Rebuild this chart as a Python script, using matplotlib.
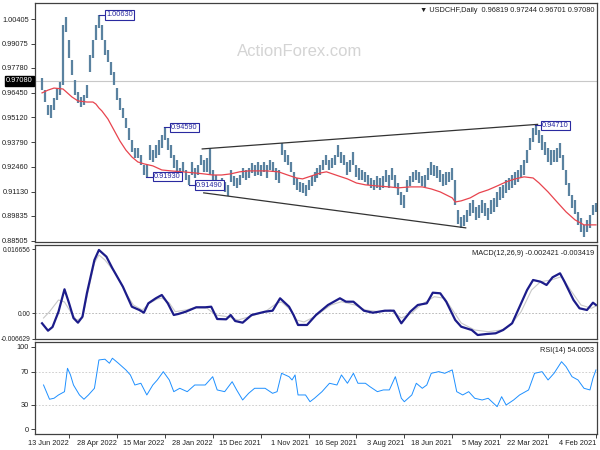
import numpy as np
import matplotlib
matplotlib.use("Agg")
import matplotlib.pyplot as plt

plt.rcParams['font.family'] = ['Liberation Sans', 'DejaVu Sans']

# price bars: day index 0 = 4 Feb 2021, one bar per two trading days
bar_days = np.arange(0, 371, 2)
highs = [0.9053, 0.9042, 0.8988, 0.8962, 0.8935, 0.8972, 0.9005, 0.9069, 0.9096, 0.9160,
         0.9230, 0.9311, 0.9375, 0.9348, 0.9337, 0.9337, 0.9348, 0.9380, 0.9418, 0.9445,
         0.9477, 0.9455, 0.9402, 0.9337, 0.9284, 0.9257, 0.9230, 0.9220, 0.9203, 0.9187,
         0.9176, 0.9150, 0.9139, 0.9112, 0.9080, 0.9069, 0.9026, 0.9053, 0.9069, 0.9042,
         0.9032, 0.9069, 0.9053, 0.9015, 0.8988, 0.8978, 0.9015, 0.9176, 0.9241, 0.9220,
         0.9220, 0.9209, 0.9230, 0.9252, 0.9257, 0.9273, 0.9241, 0.9203, 0.9198, 0.9220,
         0.9230, 0.9220, 0.9198, 0.9176, 0.9096, 0.9112, 0.9160, 0.9203, 0.9241, 0.9203,
         0.9230, 0.9198, 0.9187, 0.9198, 0.9176, 0.9187, 0.9203, 0.9220, 0.9230, 0.9241,
         0.9257, 0.9327, 0.9284, 0.9273, 0.9311, 0.9327, 0.9364, 0.9311, 0.9295, 0.9284,
         0.9311, 0.9284, 0.9257, 0.9241, 0.9220, 0.9198, 0.9176, 0.9150, 0.9160, 0.9166,
         0.9187, 0.9220, 0.9273, 0.9311, 0.9337, 0.9375, 0.9230, 0.9241, 0.9273, 0.9284,
         0.9257, 0.9273, 0.9257, 0.9273, 0.9257, 0.9268, 0.9241, 0.9230, 0.9241, 0.9203,
         0.9187, 0.9198, 0.9230, 0.9150, 0.9166, 0.9187, 0.9176, 0.9203, 0.9230, 0.9348,
         0.9295, 0.9284, 0.9311, 0.9257, 0.9241, 0.9273, 0.9203, 0.9230, 0.9273, 0.9241,
         0.9284, 0.9311, 0.9364, 0.9402, 0.9461, 0.9418, 0.9391, 0.9364, 0.9337, 0.9364,
         0.9257, 0.9257, 0.9311, 0.9348, 0.9348, 0.9391, 0.9455, 0.9509, 0.9563, 0.9617,
         0.9670, 0.9756, 0.9810, 0.9874, 0.9928, 1.0008, 1.0063, 1.0008, 0.9928, 0.9847,
         0.9686, 0.9633, 0.9622, 0.9649, 0.9713, 0.9820, 0.9928, 1.0051, 1.0008, 0.9702,
         0.9670, 0.9617, 0.9579, 0.9579, 0.9659, 0.9724]
lows = [0.9005, 0.8988, 0.8919, 0.8897, 0.8870, 0.8897, 0.8935, 0.8994, 0.9026, 0.9091,
        0.9150, 0.9230, 0.9295, 0.9273, 0.9273, 0.9257, 0.9273, 0.9311, 0.9337, 0.9375,
        0.9418, 0.9380, 0.9337, 0.9268, 0.9203, 0.9187, 0.9166, 0.9150, 0.9134, 0.9123,
        0.9107, 0.9080, 0.9069, 0.9032, 0.9005, 0.8994, 0.8962, 0.8983, 0.8999, 0.8972,
        0.8962, 0.8999, 0.8983, 0.8951, 0.8930, 0.8919, 0.8940, 0.9042, 0.9176, 0.9166,
        0.9150, 0.9144, 0.9166, 0.9187, 0.9198, 0.9203, 0.9176, 0.9139, 0.9144, 0.9160,
        0.9176, 0.9166, 0.9144, 0.9112, 0.9026, 0.9042, 0.9096, 0.9134, 0.9176, 0.9134,
        0.9166, 0.9134, 0.9123, 0.9134, 0.9123, 0.9134, 0.9150, 0.9166, 0.9176, 0.9176,
        0.9193, 0.9257, 0.9220, 0.9203, 0.9257, 0.9268, 0.9300, 0.9257, 0.9241, 0.9230,
        0.9257, 0.9230, 0.9203, 0.9187, 0.9166, 0.9144, 0.9123, 0.9091, 0.9107, 0.9112,
        0.9123, 0.9150, 0.9220, 0.9257, 0.9273, 0.9311, 0.9160, 0.9176, 0.9220, 0.9230,
        0.9187, 0.9220, 0.9198, 0.9203, 0.9198, 0.9214, 0.9187, 0.9176, 0.9187, 0.9150,
        0.9134, 0.9144, 0.9166, 0.9091, 0.9112, 0.9123, 0.9123, 0.9139, 0.9176, 0.9203,
        0.9220, 0.9220, 0.9257, 0.9203, 0.9187, 0.9203, 0.9150, 0.9176, 0.9220, 0.9176,
        0.9203, 0.9241, 0.9295, 0.9337, 0.9391, 0.9348, 0.9311, 0.9295, 0.9273, 0.9284,
        0.9193, 0.9203, 0.9257, 0.9295, 0.9295, 0.9327, 0.9391, 0.9455, 0.9509, 0.9552,
        0.9606, 0.9686, 0.9740, 0.9810, 0.9847, 0.9928, 0.9992, 0.9928, 0.9831, 0.9756,
        0.9617, 0.9579, 0.9568, 0.9590, 0.9633, 0.9740, 0.9831, 0.9971, 0.9686, 0.9633,
        0.9606, 0.9552, 0.9509, 0.9525, 0.9595, 0.9659]

# red moving average
ma_days = [0, 8, 14, 20, 26, 32, 38, 42, 48, 54, 60, 66, 72, 78, 84, 90, 94, 96, 100, 104,
           110, 116, 124, 132, 138, 146, 154, 160, 166, 172, 176, 180, 184, 190, 196, 200,
           206, 212, 220, 232, 238, 244, 250, 256, 262, 268, 276, 284, 290, 296, 302, 306,
           310, 314, 318, 322, 326, 330, 332, 334, 336, 340, 346, 350, 356, 362, 366, 370]
ma_vals = [0.8935, 0.8935, 0.8962, 0.9005, 0.9058, 0.9112, 0.9160, 0.9187, 0.9193, 0.9182,
           0.9166, 0.9144, 0.9123, 0.9107, 0.9080, 0.9064, 0.9058, 0.9080, 0.9096, 0.9112,
           0.9128, 0.9139, 0.9139, 0.9134, 0.9139, 0.9144, 0.9150, 0.9160, 0.9182, 0.9198,
           0.9209, 0.9220, 0.9214, 0.9198, 0.9182, 0.9187, 0.9203, 0.9220, 0.9225, 0.9225,
           0.9220, 0.9209, 0.9203, 0.9203, 0.9209, 0.9214, 0.9220, 0.9225, 0.9230, 0.9252,
           0.9263, 0.9273, 0.9300, 0.9337, 0.9386, 0.9445, 0.9504, 0.9547, 0.9563, 0.9584,
           0.9595, 0.9595, 0.9601, 0.9622, 0.9665, 0.9670, 0.9659, 0.9644]

# MACD(12,26,9)
macd_days = [0, 2, 6, 11, 15, 21, 24, 29, 33, 37, 42, 46, 51, 56, 62, 67, 73, 79, 83, 90,
             94, 100, 104, 109, 113, 119, 124, 130, 135, 141, 149, 155, 162, 167, 171, 179,
             187, 193, 199, 202, 205, 211, 216, 221, 230, 236, 241, 244, 247, 253, 257, 261,
             267, 274, 279, 282, 286, 290, 294, 299, 302, 305, 310, 316, 323, 327, 332, 335,
             340, 343, 346, 349, 352, 355, 359, 363, 366, 370]
macd_vals = [0.00217, 0.00277, 0.00086, 0.00131, 0.00347, 0.00825, 0.01044, 0.00940, 0.00739,
             0.00825, 0.00869, 0.00608, 0.00172, -0.00261, -0.00436, -0.00522, -0.00540,
             -0.00567, -0.00436, -0.00350, -0.00175, 0.00303, 0.00522, 0.00538, 0.00261,
             0.00217, 0.00042, -0.00261, 0.00068, 0.00068, 0.00016, 0.00068, 0.00303, 0.00303,
             0.00392, 0.00217, -0.00044, -0.00305, -0.00305, -0.00044, 0.00172, 0.00392,
             0.00068, 0.00042, -0.00044, -0.00245, -0.00201, -0.00044, -0.00157, -0.00149,
             0.00172, 0.00157, 0.00157, 0.00042, -0.00018, -0.00044, 0.00261, 0.00478, 0.00392,
             0.00261, 0.00016, 0.00086, 0.00172, 0.00695, 0.01175, 0.01478, 0.01653, 0.01392,
             0.00530, -0.00089, -0.00245, -0.00123, 0.00269, 0.00627, 0.00042, -0.00358,
             -0.00454, -0.00261]
signal_days = [0, 3, 10, 17, 23, 30, 37, 43, 50, 57, 63, 72, 81, 90, 95, 101, 108, 117, 123,
               130, 137, 145, 154, 161, 170, 177, 188, 195, 200, 204, 210, 213, 221, 230, 239,
               245, 254, 260, 268, 274, 281, 285, 290, 293, 298, 303, 309, 314, 321, 328, 332,
               335, 339, 343, 347, 351, 355, 359, 365, 369]
signal_vals = [0.00191, 0.00131, 0.00217, 0.00608, 0.00956, 0.00869, 0.00825, 0.00608, 0.00042,
               -0.00305, -0.00436, -0.00480, -0.00436, -0.00253, 0.00042, 0.00392, 0.00433,
               0.00217, 0.00008, -0.00123, 0.00086, 0.00042, 0.00086, 0.00217, 0.00303, 0.00217,
               -0.00089, -0.00227, -0.00175, 0.00086, 0.00295, 0.00269, 0.00042, -0.00070,
               -0.00175, -0.00097, -0.00044, 0.00138, 0.00146, 0.00086, 0.00042, 0.00269,
               0.00399, 0.00373, 0.00269, 0.00086, 0.00217, 0.00530, 0.01052, 0.01392, 0.01522,
               0.01313, 0.00608, -0.00123, -0.00175, 0.00042, 0.00295, 0.00347, 0.00042, -0.00123]

# RSI(14)
rsi_days = [0, 2, 4, 8, 12, 16, 20, 23, 28, 32, 36, 41, 45, 51, 55, 60, 63, 66, 72, 76, 81,
            85, 89, 93, 96, 101, 105, 110, 113, 116, 120, 123, 128, 130, 134, 138, 142, 146,
            151, 154, 159, 162, 166, 170, 173, 178, 183, 188, 191, 194, 199, 201, 203, 205,
            210, 213, 216, 221, 228, 232, 236, 240, 243, 248, 253, 256, 261, 268, 273, 278,
            282, 285, 289, 293, 296, 300, 304, 308, 311, 314, 319, 323, 325, 328, 332, 335,
            339, 342, 345, 349, 351, 353, 355, 359, 362, 365, 369]
rsi_vals = [72.1, 62.0, 47.8, 49.8, 59.9, 63.9, 76.1, 82.1, 68.0, 59.9, 70.0, 68.0, 47.8,
            41.7, 35.6, 29.5, 39.6, 27.5, 37.7, 35.6, 37.7, 45.7, 41.7, 45.7, 72.1, 68.0, 70.0,
            68.0, 53.8, 49.8, 55.9, 41.7, 33.5, 37.7, 63.9, 47.8, 47.8, 45.7, 51.8, 55.9, 55.9,
            68.0, 55.9, 66.0, 53.8, 55.9, 45.7, 37.7, 33.5, 41.7, 41.7, 66.0, 59.9, 63.9, 68.0,
            45.7, 43.7, 49.8, 49.8, 43.7, 35.6, 47.8, 57.8, 45.7, 47.8, 63.9, 53.8, 53.8, 45.7,
            49.8, 45.7, 59.9, 70.0, 59.9, 53.8, 41.7, 55.9, 53.8, 66.0, 72.1, 80.2, 86.3, 80.2,
            85.1, 84.2, 49.8, 41.7, 36.5, 41.7, 53.8, 66.0, 74.1, 45.7, 41.7, 37.7, 36.5, 53.8]

date_ticks = [0, 32, 64, 96, 128, 160, 192, 224, 256, 288, 320, 352]
date_labels = ['4 Feb 2021', '22 Mar 2021', '5 May 2021', '18 Jun 2021', '3 Aug 2021',
               '16 Sep 2021', '1 Nov 2021', '15 Dec 2021', '28 Jan 2022', '15 Mar 2022',
               '28 Apr 2022', '13 Jun 2022']
price_ticks = [1.00405, 0.99075, 0.97780, 0.96450, 0.95120, 0.93790, 0.92460, 0.91130,
               0.89835, 0.88505]
last_price = 0.97080

# price marks: (bar of the extreme, start of the box, price)
marks = [(332, 327.3, 1.00630), (288.7, 284.0, 0.94590), (40.7, 36.0, 0.94710),
         (300.7, 295.3, 0.91930), (272.0, 267.3, 0.91490)]
upper_line = ([263, 39], [0.9343, 0.9475])
lower_line = ([262, 87], [0.9107, 0.8919])

# ---- figure ----
W, H = 600, 450
fig = plt.figure(figsize=(6, 4.5), dpi=100)


def panel(top, bottom):
    return [35 / W, 1 - bottom / H, 562 / W, (bottom - top) / H]


ax1 = fig.add_axes(panel(3, 242))
ax2 = fig.add_axes(panel(245, 339), sharex=ax1)
ax3 = fig.add_axes(panel(342, 434), sharex=ax1)

fs = 5.3
navy = '#2a2aa0'
for ax in (ax1, ax2, ax3):
    for s in ax.spines.values():
        s.set_color('#404040')
        s.set_linewidth(0.9)
    ax.tick_params(labelsize=fs, length=3, width=0.6, pad=1.5, colors='#202020')

# main price panel
ax1.axhline(last_price, color='#c8c8c8', lw=0.8, zorder=0)
ax1.vlines(bar_days, lows, highs, color='#5a82a0', lw=1.6)
ax1.plot(ma_days, ma_vals, color='#e8444e', lw=0.9)
ax1.plot(*upper_line, color='#333333', lw=0.9)
ax1.plot(*lower_line, color='#333333', lw=0.9)
for pk, bx, val in marks:
    ax1.plot([pk, bx], [val, val], color=navy, lw=0.8)
    ax1.text(bx, val, '%.5f' % val, ha='left', va='center', fontsize=fs, color=navy,
             bbox=dict(boxstyle='square,pad=0.15', fc='white', ec=navy, lw=0.8))
ax1.set_ylim(0.8843, 1.0127)
ax1.set_yticks(price_ticks)
ax1.set_yticklabels(['%.5f' % p for p in price_ticks])
ax1.text(-0.004, last_price, '%.5f' % last_price, transform=ax1.get_yaxis_transform(),
         ha='right', va='center', fontsize=fs, color='white',
         bbox=dict(boxstyle='square,pad=0.15', fc='black', ec='black'))
ax1.text(0.4715, 0.795, 'ActionForex.com', transform=ax1.transAxes, ha='center',
         va='center', fontsize=12, color='#d4d4d4')
ax1.text(0.996, 0.985, '\u25bc USDCHF,Daily  0.96819 0.97244 0.96701 0.97080',
         transform=ax1.transAxes, ha='right', va='top', fontsize=fs, color='#202020')
ax1.tick_params(bottom=False, labelbottom=False)

# MACD panel
ax2.axhline(0, color='#b0b0b0', lw=0.6, ls=(0, (2, 2)))
ax2.plot(signal_days, signal_vals, color='#c8c8c8', lw=0.8)
ax2.plot(macd_days, macd_vals, color='#1c1c8a', lw=1.6)
ax2.set_ylim(-0.00671, 0.01783)
ax2.set_yticks([0.016656, 0.0, -0.006629])
ax2.set_yticklabels(['0.016656', '0.00', '-0.006629'])
ax2.tick_params(axis='y', labelsize=4.8, length=2, pad=1)
ax2.text(0.994, 0.95, 'MACD(12,26,9) -0.002421 -0.003419', transform=ax2.transAxes,
         ha='right', va='top', fontsize=fs, color='#202020')
ax2.tick_params(bottom=False, labelbottom=False)

# RSI panel
for lvl in (70, 30):
    ax3.axhline(lvl, color='#c8c8c8', lw=0.6, ls=(0, (2, 2)))
ax3.plot(rsi_days, rsi_vals, color='#1e90ff', lw=0.7)
ax3.set_ylim(-5.7, 106)
ax3.set_yticks([100, 70, 30, 0])
ax3.text(0.994, 0.95, 'RSI(14) 54.0053', transform=ax3.transAxes, ha='right', va='top',
         fontsize=fs, color='#202020')
ax3.set_xticks(date_ticks)
ax3.set_xticklabels(date_labels, ha='right')

ax1.set_xlim(374.7, -0.7)

fig.savefig('out.png', dpi=100)
